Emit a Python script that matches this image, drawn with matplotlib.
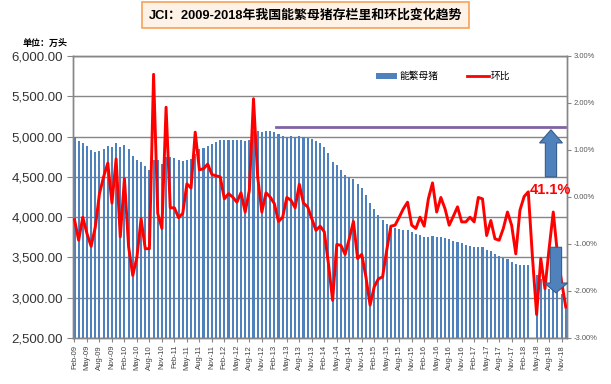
import numpy as np
import pandas as pd
import matplotlib
matplotlib.use('Agg')
import matplotlib.pyplot as plt
from matplotlib.patches import FancyArrow, Patch
from matplotlib.lines import Line2D

plt.rcParams['font.family'] = ['Liberation Sans', 'Noto Sans CJK SC', 'DejaVu Sans']

# datos (Feb-09 .. Dec-18)
meses = pd.date_range('2009-02-01', periods=119, freq='MS')
etiquetas = [m.strftime('%b-%y') for m in meses]

cerdas = [4995, 4945, 4916, 4883, 4829, 4808, 4816, 4841, 4879, 4866,
          4916, 4870, 4895, 4845, 4758, 4708, 4679, 4633, 4583, 4704,
          4704, 4654, 4750, 4745, 4729, 4708, 4695, 4708, 4720, 4787,
          4841, 4858, 4883, 4904, 4929, 4954, 4954, 4954, 4954, 4954,
          4954, 4941, 4954, 5070, 5075, 5054, 5066, 5066, 5054, 5029,
          5012, 5000, 5008, 5000, 5012, 5000, 4987, 4975, 4950, 4920,
          4870, 4790, 4683, 4641, 4591, 4529, 4500, 4479, 4416, 4366,
          4279, 4179, 4104, 4029, 3966, 3916, 3883, 3862, 3854, 3841,
          3841, 3816, 3795, 3775, 3754, 3754, 3766, 3754, 3754, 3745,
          3729, 3704, 3691, 3675, 3654, 3637, 3633, 3633, 3633, 3591,
          3579, 3541, 3516, 3495, 3475, 3445, 3416, 3404, 3404, 3404,
          np.nan, 3279, 3229, 3133, 3110, 3090, 3070, 3050, 2883]

huanbi = [-0.48, -0.92, -0.43, -0.78, -1.05, -0.64, 0.07, 0.43, 0.72, -0.13,
          0.81, -0.85, 0.39, -1.06, -1.67, -1.28, -0.46, -1.10, -1.10, 2.61,
          -0.35, -0.67, 1.91, -0.23, -0.23, -0.44, -0.35, 0.28, 0.19, 1.38,
          0.58, 0.60, 0.70, 0.48, 0.45, 0.43, -0.04, 0.07, 0.00, -0.11,
          0.09, -0.32, 0.14, 2.09, 0.43, -0.32, 0.09, 0.00, -0.14, -0.52,
          -0.43, -0.01, -0.07, -0.23, 0.27, -0.13, -0.21, -0.46, -0.71, -0.62,
          -0.74, -1.42, -2.20, -1.01, -1.03, -1.22, -0.89, -0.52, -1.31, -1.22,
          -1.70, -2.30, -1.91, -1.74, -1.70, -1.13, -0.62, -0.60, -0.43, -0.25,
          -0.11, -0.60, -0.67, -0.43, -0.62, -0.04, 0.30, -0.32, -0.01, -0.25,
          -0.60, -0.41, -0.21, -0.53, -0.53, -0.43, -0.53, -0.01, -0.04, -0.82,
          -0.50, -0.89, -0.92, -0.67, -0.32, -0.60, -1.21, -0.28, 0.01, 0.11,
          -1.28, -2.50, -1.31, -1.95, -1.10, -0.32, -1.21, -1.80, -2.34]

# linea morada de referencia (en % del eje derecho)
linea_ref = 1.49
linea_ini, linea_fin = 48.3, 117.8
texto_anot = '41.1%'

azul = '#4F81BD'
gris = '#868686'

fig = plt.figure(figsize=(6.11, 3.84), dpi=100)
ax = fig.add_axes([0.1195, 0.1198, 0.8085, 0.7344])
ax2 = ax.twinx()

n = np.arange(len(cerdas))
ax.bar(n, cerdas, width=0.5, color=azul, zorder=2)
ax.set_ylim(2500, 6000)
ax.set_yticks(np.arange(2500, 6001, 500))
ax.set_yticklabels(['{:,.2f}'.format(v) for v in np.arange(2500, 6001, 500)],
                   fontsize=9.5, color='#333333')
ax.set_axisbelow(True)
ax.grid(axis='y', color=gris, linewidth=1)
ax.set_xlim(-0.35, len(cerdas) - 0.7)
ax.set_xticks(n[::3])
ax.set_xticklabels(etiquetas[::3], rotation=90, fontsize=5.5, color='#404040')
ax.tick_params(axis='x', length=3, color=gris, pad=2)
ax.tick_params(axis='y', length=4, color=gris, pad=3)

ax2.plot(n, huanbi, color='red', linewidth=2.1, solid_joinstyle='round', zorder=3)
ax2.set_ylim(-3, 3)
ax2.set_yticks(np.arange(-3, 3.01, 1))
ax2.set_yticklabels(['{:.2f}%'.format(v) for v in np.arange(-3, 3.01, 1)],
                    fontsize=5.5, color='#595959')
ax2.tick_params(axis='y', length=3, color=gris, pad=2)

for a in (ax, ax2):
    for s in a.spines.values():
        s.set_color(gris)
        s.set_linewidth(1)

ax2.plot([linea_ini, linea_fin], [linea_ref, linea_ref], color='#8064A2', linewidth=2)

# flechas
ax2.add_patch(FancyArrow(114.45, 0.43, 0, 1.0, width=2.7, head_width=5.5,
                         head_length=0.28, length_includes_head=True,
                         facecolor=azul, edgecolor='#385D8A', linewidth=0.8,
                         clip_on=False, zorder=5))
ax2.add_patch(FancyArrow(115.65, -1.07, 0, -0.97, width=2.7, head_width=5.6,
                         head_length=0.21, length_includes_head=True,
                         facecolor=azul, edgecolor='#385D8A', linewidth=0.8,
                         clip_on=False, zorder=5))
ax2.text(114.2, 0.14, texto_anot, color='red', fontsize=10.5, fontweight='bold',
         ha='center', va='center', zorder=6)

# leyenda
h = [Patch(facecolor=azul), Line2D([0], [0], color='red', linewidth=2)]
fig.legend(h, ['能繁母猪', '环比'], loc='center', bbox_to_anchor=(0.725, 0.802),
           ncol=2, frameon=False, fontsize=7, handlelength=2.2, handleheight=0.6,
           columnspacing=3.0, handletextpad=0.2)

fig.text(0.074, 0.888, '单位：万头', fontsize=6.5, fontweight='bold', ha='center', va='center')
fig.text(0.5, 0.961, 'JCI：2009-2018年我国能繁母猪存栏里和环比变化趋势',
         fontsize=9.3, fontweight='bold', ha='center', va='center',
         bbox=dict(boxstyle='square,pad=0.5', facecolor='#FEF1E6', edgecolor='#F6A25A', linewidth=1.2))

fig.savefig('out.png', dpi=100)
